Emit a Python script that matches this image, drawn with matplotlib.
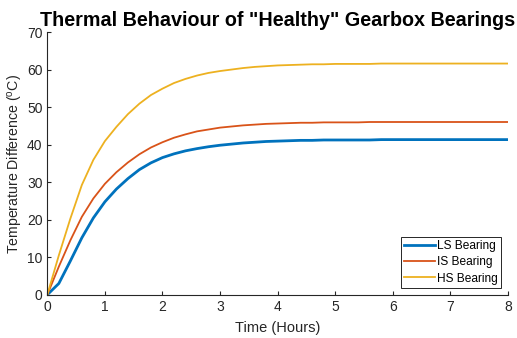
import numpy as np
import matplotlib
matplotlib.use("Agg")
import matplotlib.pyplot as plt

# time axis in hours, sampled every 0.2 h
hours = np.round(np.arange(0, 8.01, 0.2), 1)

ls_bearing = [0.0, 3.0, 9.0, 15.2, 20.5, 24.8, 28.2, 31.0, 33.4, 35.2,
              36.6, 37.6, 38.4, 39.0, 39.5, 39.9, 40.2, 40.5, 40.7, 40.9,
              41.0, 41.1, 41.2, 41.2, 41.3, 41.3, 41.3, 41.3, 41.3, 41.4,
              41.4, 41.4, 41.4, 41.4, 41.4, 41.4, 41.4, 41.4, 41.4, 41.4, 41.4]
is_bearing = [0.0, 7.5, 14.5, 20.8, 25.7, 29.6, 32.7, 35.3, 37.5, 39.3,
              40.7, 41.9, 42.8, 43.6, 44.1, 44.6, 44.9, 45.2, 45.4, 45.6,
              45.7, 45.8, 45.9, 45.9, 46.0, 46.0, 46.0, 46.0, 46.1, 46.1,
              46.1, 46.1, 46.1, 46.1, 46.1, 46.1, 46.1, 46.1, 46.1, 46.1, 46.1]
hs_bearing = [0.0, 10.5, 20.3, 29.3, 36.0, 41.0, 44.8, 48.2, 51.0, 53.3,
              55.0, 56.5, 57.6, 58.5, 59.2, 59.7, 60.1, 60.5, 60.8, 61.0,
              61.2, 61.3, 61.4, 61.5, 61.5, 61.6, 61.6, 61.6, 61.6, 61.7,
              61.7, 61.7, 61.7, 61.7, 61.7, 61.7, 61.7, 61.7, 61.7, 61.7, 61.7]

plt.rcParams["font.family"] = ["Liberation Sans", "DejaVu Sans"]
plt.rcParams["mathtext.default"] = "regular"

fig = plt.figure(figsize=(5.17, 3.38), dpi=100)
ax = fig.add_axes([0.0915, 0.128, 0.891, 0.776])

ax.plot(hours, ls_bearing, color="#0072BD", lw=2.0, label="LS Bearing")
ax.plot(hours, is_bearing, color="#D95319", lw=1.3, label="IS Bearing")
ax.plot(hours, hs_bearing, color="#EDB120", lw=1.3, label="HS Bearing")

ax.set_xlim(0, 8)
ax.set_ylim(0, 70)
ax.set_xticks(range(0, 9))
ax.set_yticks(range(0, 71, 10))
for side in ("top", "right"):
    ax.spines[side].set_visible(False)
for side in ("left", "bottom"):
    ax.spines[side].set_color("#262626")
    ax.spines[side].set_linewidth(0.8)
ax.tick_params(direction="in", length=3, width=0.8, colors="#262626",
               labelsize=10, pad=3.5)

ax.set_xlabel("Time (Hours)", fontsize=10.5, color="#262626", labelpad=5)
ax.set_ylabel("Temperature Difference ($^{o}$C)", fontsize=10.2,
              color="#262626", labelpad=1.5)
ax.set_title('Thermal Behaviour of "Healthy" Gearbox Bearings',
             fontsize=14.2, fontweight="bold", pad=5)

leg = ax.legend(loc="lower right", fontsize=8.6, fancybox=False, framealpha=1,
                edgecolor="#262626", handlelength=2.6, handletextpad=0.15,
                borderpad=0.25, labelspacing=0.35, borderaxespad=0.6)
leg.get_frame().set_linewidth(0.7)

fig.savefig("out.png", dpi=100)
